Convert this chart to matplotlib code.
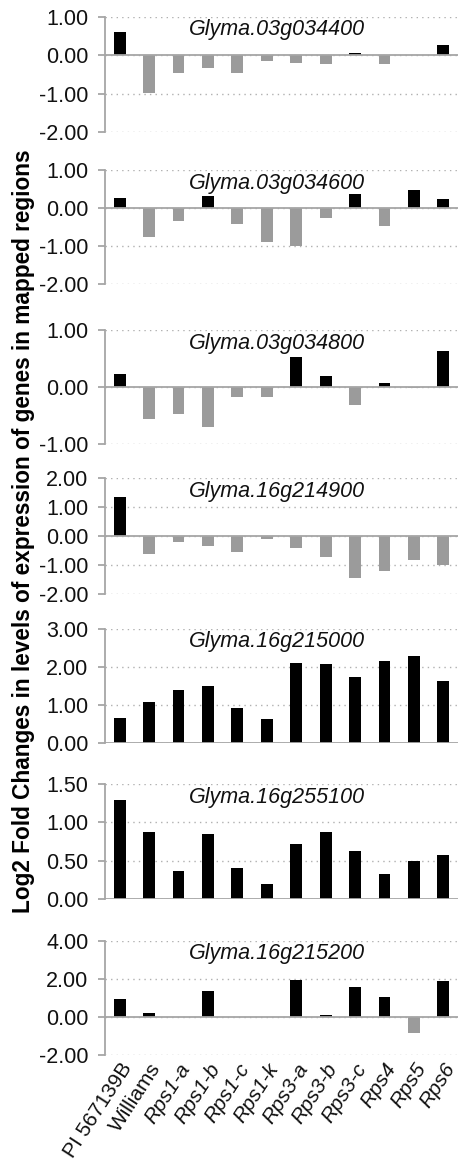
import matplotlib
matplotlib.use("Agg")
import matplotlib.pyplot as plt
from matplotlib.ticker import FixedLocator, FuncFormatter
import matplotlib.transforms as mtransforms

plt.rcParams["font.family"] = ["Liberation Sans", "DejaVu Sans"]

lines = ["PI 567139B", "Williams", "Rps1-a", "Rps1-b", "Rps1-c", "Rps1-k",
         "Rps3-a", "Rps3-b", "Rps3-c", "Rps4", "Rps5", "Rps6"]

genes = ["Glyma.03g034400", "Glyma.03g034600", "Glyma.03g034800",
         "Glyma.16g214900", "Glyma.16g215000", "Glyma.16g255100",
         "Glyma.16g215200"]

g034400 = [0.60, -0.97, -0.45, -0.33, -0.45, -0.15, -0.19, -0.22, 0.05, -0.23, 0.02, 0.26]
g034600 = [0.26, -0.75, -0.35, 0.32, -0.42, -0.89, -1.01, -0.25, 0.37, -0.47, 0.47, 0.24]
g034800 = [0.23, -0.57, -0.47, -0.70, -0.18, -0.17, 0.52, 0.19, -0.31, 0.07, -0.02, 0.64]
g214900 = [1.33, -0.61, -0.21, -0.33, -0.56, -0.11, -0.40, -0.72, -1.45, -1.22, -0.83, -1.00]
g215000 = [0.66, 1.08, 1.39, 1.49, 0.91, 0.62, 2.11, 2.08, 1.74, 2.17, 2.29, 1.62]
g255100 = [1.29, 0.87, 0.36, 0.85, 0.41, 0.19, 0.72, 0.875, 0.63, 0.32, 0.49, 0.57]
g215200 = [0.96, 0.22, 0.0, 1.39, 0.0, 0.0, 1.97, 0.12, 1.56, 1.06, -0.82, 1.92]

series = [g034400, g034600, g034800, g214900, g215000, g255100, g215200]

yticks = [
    [-2, -1, 0, 1],
    [-2, -1, 0, 1],
    [-1, 0, 1],
    [-2, -1, 0, 1, 2],
    [0, 1, 2, 3],
    [0, 0.5, 1, 1.5],
    [-2, 0, 2, 4],
]

# panel top / bottom in pixels (figure is 459 x 1163)
panel_px = [(17, 132), (170, 284), (330, 444), (478, 594),
            (629, 743), (784, 899), (941, 1055)]

W, H = 459, 1163
fig = plt.figure(figsize=(W / 100, H / 100), dpi=100)

left_px, right_px = 105, 458
axis_grey = "#a6a6a6"

for i, (vals, ticks, gene) in enumerate(zip(series, yticks, genes)):
    top, bot = panel_px[i]
    ax = fig.add_axes([left_px / W, 1 - bot / H,
                       (right_px - left_px) / W, (bot - top) / H])
    x = list(range(len(lines)))
    colors = ["black" if v >= 0 else "#9b9b9b" for v in vals]
    ax.bar(x, vals, width=0.4, color=colors, zorder=3)
    ax.set_xlim(-0.5, len(lines) - 0.5)
    ax.set_ylim(ticks[0], ticks[-1])
    ax.yaxis.set_major_locator(FixedLocator(ticks))
    ax.yaxis.set_major_formatter(FuncFormatter(lambda v, p: f"{v:.2f}"))
    ax.grid(axis="y", color="#b0b0b0", linestyle=(0, (1, 3)), linewidth=1, zorder=0)
    ax.axhline(0, color=axis_grey, linewidth=1.3, zorder=4)
    for s in ["top", "right", "bottom"]:
        ax.spines[s].set_visible(False)
    ax.spines["left"].set_color(axis_grey)
    ax.spines["left"].set_linewidth(1.3)
    ax.tick_params(axis="y", direction="out", length=5, width=1.3,
                   color=axis_grey, labelsize=15.5, pad=7, labelcolor="#111111")
    ax.tick_params(axis="x", length=0)
    ax.annotate(gene, xy=(0.487, 1), xycoords="axes fraction",
                xytext=(0, -13), textcoords="offset pixels",
                ha="center", va="center", fontsize=15.5, style="italic",
                color="#111111")
    ax.set_xticks(x)
    if i < len(series) - 1:
        ax.set_xticklabels([])
    else:
        ax.set_xticklabels(lines, rotation=57, ha="right", va="center",
                           rotation_mode="anchor", fontsize=15, color="#111111")
        offset = mtransforms.ScaledTranslation(8 / 100, -5 / 100, fig.dpi_scale_trans)
        for lab in ax.get_xticklabels():
            lab.set_transform(lab.get_transform() + offset)
            if lab.get_text().startswith("Rps"):
                lab.set_style("italic")

fig.text(24 / W, 1 - 531 / H,
         "Log2 Fold Changes in levels of expression of genes in mapped regions",
         rotation=90, ha="center", va="center", fontsize=16.3, fontweight="bold")

fig.savefig("out.png", dpi=100)
